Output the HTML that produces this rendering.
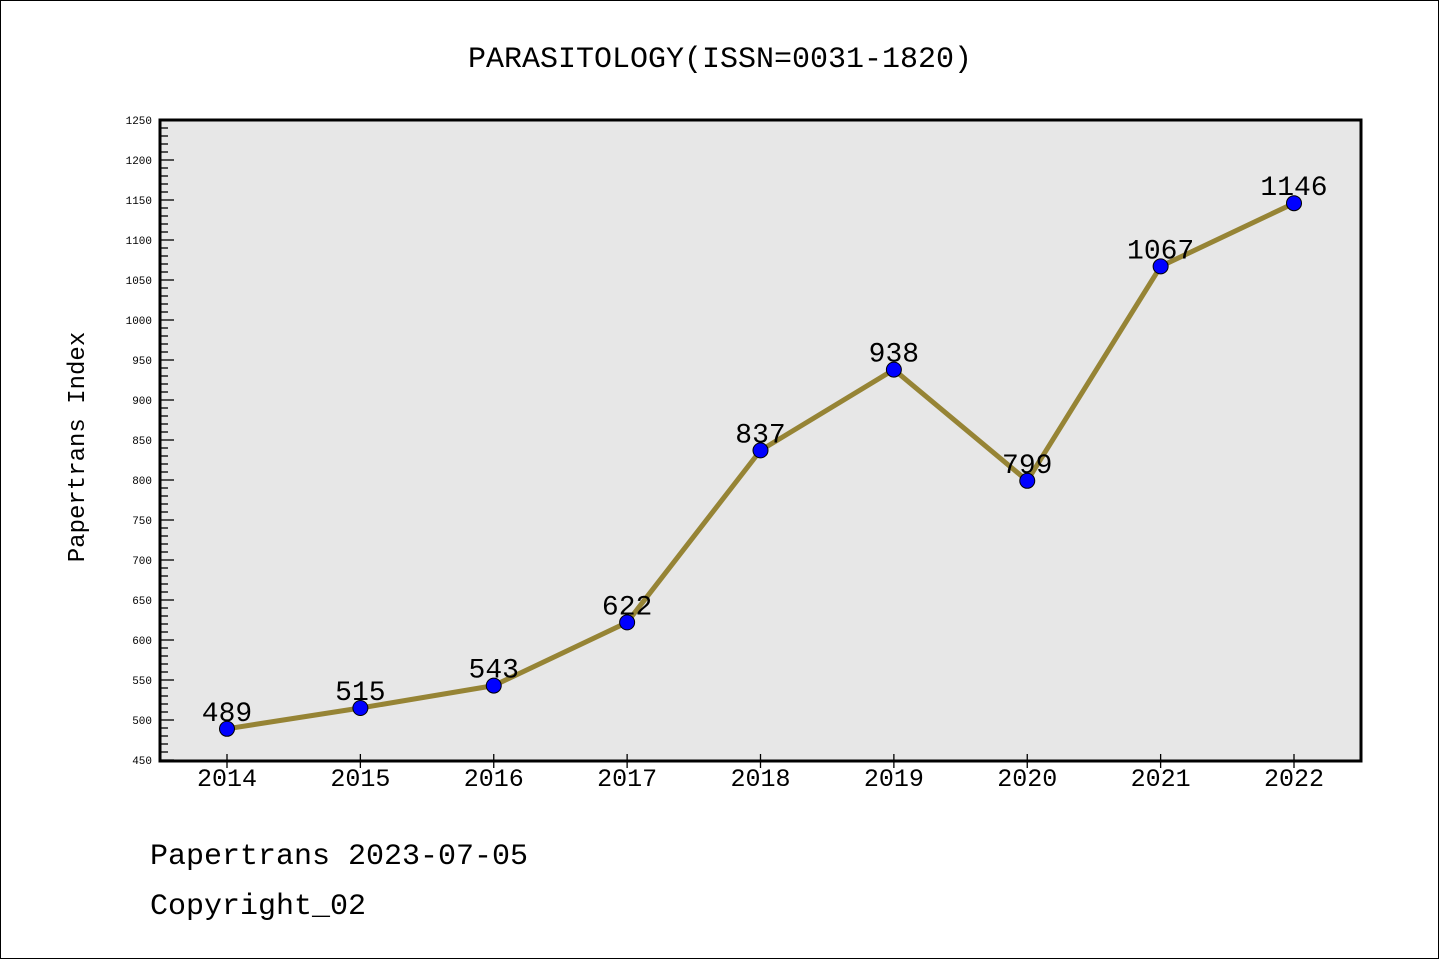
<!DOCTYPE html>
<html><head><meta charset="utf-8">
<style>
html,body{margin:0;padding:0;background:#fff;}
svg{display:block;}
text{font-family:"Liberation Mono","DejaVu Sans Mono","Noto Sans CJK SC",monospace;}
</style></head>
<body>
<svg id="chart" width="1440" height="960" xmlns="http://www.w3.org/2000/svg">
<rect x="0.5" y="0.5" width="1438" height="958" fill="#fff" stroke="#000" stroke-width="1"/>
<text x="720" y="67" text-anchor="middle" font-size="30">PARASITOLOGY(ISSN=0031-1820)</text>
<rect x="160" y="120" width="1201" height="641" fill="#e7e7e7"/>
<g id="ticks"></g>
<g id="series"></g>
<rect x="160" y="120" width="1201" height="641" fill="none" stroke="#000" stroke-width="3"/>
<text transform="translate(84,447) rotate(-90)" text-anchor="middle" font-size="24">Papertrans Index</text>
<text x="150" y="864" font-size="30">Papertrans 2023-07-05</text>
<text x="150" y="914" font-size="30">Copyright_02</text>
</svg>
<script>
const years = ["2014","2015","2016","2017","2018","2019","2020","2021","2022"];
const values = [489,515,543,622,837,938,799,1067,1146];
const yTicks = [450,500,550,600,650,700,750,800,850,900,950,1000,1050,1100,1150,1200,1250];
const yMin = 450, yMax = 1250;
const NS = "http://www.w3.org/2000/svg";
function yPos(v){ return 760 - (v - yMin) * 640 / (yMax - yMin); }
function xPos(i){ return 227 + i * (1294 - 227) / (years.length - 1); }
function mk(tag, attrs, parent){ const e=document.createElementNS(NS,tag); for(const k in attrs) e.setAttribute(k,attrs[k]); parent.appendChild(e); return e; }
const tg=document.getElementById('ticks'), sg=document.getElementById('series');
for(let v=yMin; v<=yMax; v+=10){
  const major = (v - yMin) % 50 === 0;
  const l=mk('line',{x1:160,x2:major?174:168,y1:yPos(v),y2:yPos(v),stroke:'#000','stroke-width':1.3},tg);
  
  
}
yTicks.forEach(v=>{
  const t=mk('text',{x:152,y:yPos(v)+4,'text-anchor':'end','font-size':11,'font-family':'"DejaVu Sans",sans-serif'},tg);
  t.textContent=v;
  
  
});
years.forEach((y,i)=>{
  const l=mk('line',{x1:xPos(i),x2:xPos(i),y1:754,y2:768,stroke:'#000','stroke-width':1.3},tg);
  
  
  const t=mk('text',{x:xPos(i),y:786,'text-anchor':'middle','font-size':25,'font-family':'"DejaVu Sans",sans-serif'},tg);
  t.textContent=y;
  
  
});
const pts=values.map((v,i)=>xPos(i)+','+yPos(v)).join(' ');
const pl=mk('polyline',{points:pts,fill:'none',stroke:'#968435','stroke-width':5,'stroke-linejoin':'round'},sg);


values.forEach((v,i)=>{
  const c=mk('circle',{cx:xPos(i),cy:yPos(v),r:7.5,fill:'#0000ff',stroke:'#000','stroke-width':1},sg);
  
  
  const t=mk('text',{x:xPos(i),y:yPos(v)-8,'text-anchor':'middle','font-size':28,'font-family':'"DejaVu Sans",sans-serif'},sg);
  t.textContent=v;
  
  
});
</script>
</body></html>
